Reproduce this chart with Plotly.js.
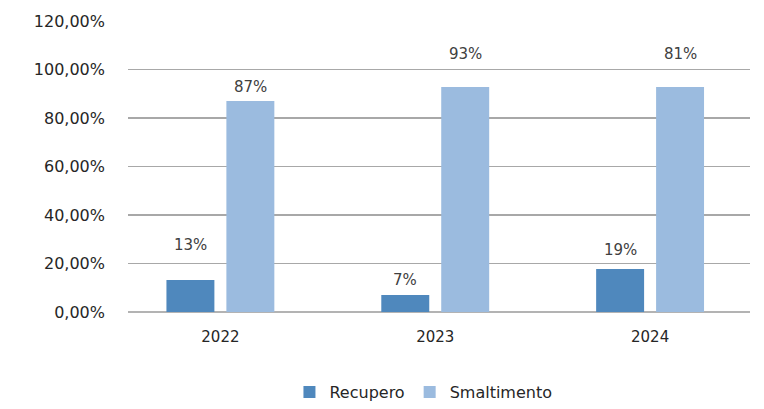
<!DOCTYPE html>
<html>
<head>
<meta charset="utf-8">
<script src="https://cdn.plot.ly/plotly-3.0.1.min.js"></script>
<style>html,body{margin:0;padding:0;background:#fff}#chart{width:764px;height:409px}</style>
</head>
<body>
<div id="chart"></div>
<script>
var categories = ["2022", "2023", "2024"];
var recupero = [0.132, 0.07, 0.177];
var smaltimento = [0.87, 0.928, 0.928];
var recuperoLabels = ["13%", "7%", "19%"];
var smaltimentoLabels = ["87%", "93%", "81%"];
var recuperoLabelY = [0.276, 0.132, 0.256];
var smaltimentoLabelY = [0.928, 1.064, 1.064];
var yTicks = [0, 0.2, 0.4, 0.6, 0.8, 1.0, 1.2];

var font = "'DejaVu Sans', sans-serif";
var xIdx = categories.map(function (c, i) { return i; });

var traces = [
  {type: "bar", name: "Recupero", x: xIdx, y: recupero, marker: {color: "#4f88bd"}, hoverinfo: "y"},
  {type: "bar", name: "Smaltimento", x: xIdx, y: smaltimento, marker: {color: "#9bbbdf"}, hoverinfo: "y"}
];

var offset = 0.14;
var annotations = [];
xIdx.forEach(function (i) {
  annotations.push({x: i - offset, y: recuperoLabelY[i], xref: "x", yref: "y", text: recuperoLabels[i], showarrow: false, font: {family: font, size: 15, color: "#404040"}});
  annotations.push({x: i + offset, y: smaltimentoLabelY[i], xref: "x", yref: "y", text: smaltimentoLabels[i], showarrow: false, font: {family: font, size: 15, color: "#404040"}});
});

var layout = {
  width: 764, height: 409,
  margin: {l: 128, r: 14, t: 21, b: 97, autoexpand: false},
  paper_bgcolor: "#fff", plot_bgcolor: "#fff",
  separators: ",.",
  barmode: "group",
  bargap: 0.442,
  bargroupgap: 0.2,
  font: {family: font, size: 15, color: "#262626"},
  xaxis: {
    range: [-0.43, 2.465],
    tickvals: xIdx, ticktext: categories,
    showgrid: false, zeroline: false, showline: false, ticks: "",
    ticklabelstandoff: 14,
    tickfont: {family: font, size: 15, color: "#262626"}
  },
  yaxis: {
    range: [0, 1.2],
    tickvals: yTicks,
    tickformat: ".2%",
    showgrid: true, gridcolor: "#a8a8a8", gridwidth: 1.3,
    zeroline: true, zerolinecolor: "#b3b3b3", zerolinewidth: 2,
    showline: false, ticks: "", ticklabelstandoff: 22,
    tickfont: {family: font, size: 16, color: "#262626"}
  },
  legend: {
    orientation: "h", x: 0.475, xanchor: "center", y: -0.275, yanchor: "middle",
    font: {family: font, size: 16, color: "#262626"},
    itemwidth: 30, tracegroupgap: 0
  },
  annotations: annotations,
  showlegend: true
};

Plotly.newPlot("chart", traces, layout, {displayModeBar: false, staticPlot: true});
</script>
</body>
</html>
